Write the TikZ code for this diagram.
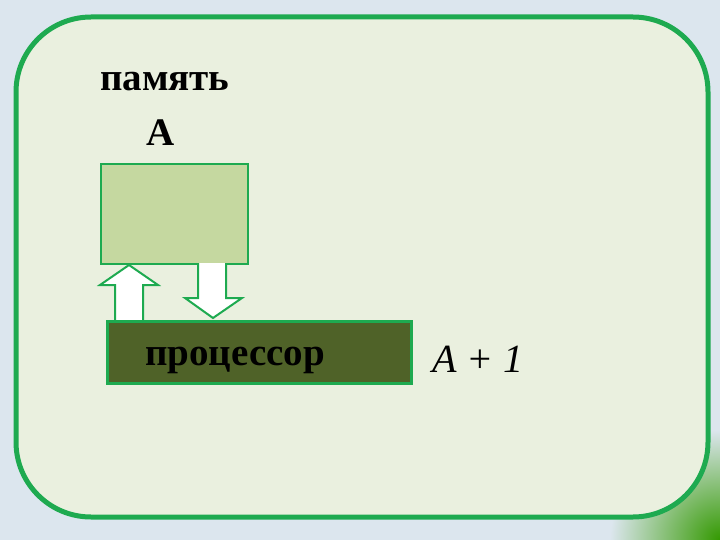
\documentclass[tikz,border=0pt]{standalone}
\usepackage{fontspec}
\setmainfont{Liberation Serif}
\begin{document}
\begin{tikzpicture}[x=1pt,y=-1pt,
  lbl/.style={font=\bfseries\fontsize{39}{41}\selectfont, anchor=west, inner sep=0}]
\definecolor{bg}{HTML}{DCE6EE}
\definecolor{inner}{HTML}{EAF0DF}
\definecolor{mem}{HTML}{C5D8A0}
\definecolor{proc}{HTML}{4F6228}
\definecolor{gr}{HTML}{1EAA50}
\tikzset{gline/.style={draw=gr, line width=3pt}, arr/.style={draw=gr, line width=2pt, fill=white}}
\useasboundingbox (0,0) rectangle (720,540);
\fill[bg] (0,0) rectangle (720,540);
\shade[inner color=green!50!black!80!yellow, outer color=bg] (720,540) circle (110);
\draw[gline, fill=inner, line width=5pt, rounded corners=75] (16,17) rectangle (708,517);
\node[lbl] (pam) at (100,82) {память};
\node[lbl] (a) at (146,133) {A};
\node[draw=gr, line width=2pt, fill=mem, minimum width=147, minimum height=100, anchor=north west, inner sep=0] (m) at (100,163) {};
\draw[arr] (115,320) -- (115,285) -- (100,285) -- (129,265) -- (158,285) -- (143,285) -- (143,320);
\draw[arr] (198,263) -- (198,298) -- (185,298) -- (213,318) -- (242,298) -- (226,298) -- (226,263);
\node[draw=gr, line width=2.5pt, fill=proc, minimum width=304, minimum height=62, anchor=north west, inner sep=0] (p) at (106,320) {};
\node[lbl] (pt) at (145,360) {процессор};
\node[lbl, font=\itshape\fontsize{40}{42}\selectfont] (a1) at (432,359) {A + 1};
\end{tikzpicture}
\end{document}
